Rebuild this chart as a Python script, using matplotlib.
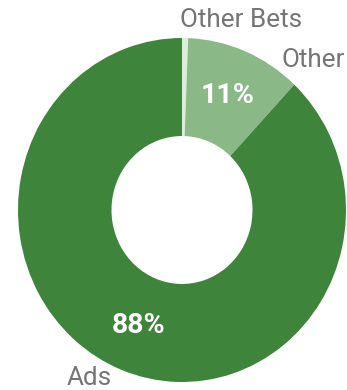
import matplotlib

matplotlib.use("Agg")
import matplotlib.pyplot as plt

# Revenue share by segment, clockwise from 12 o'clock
segments = ["Other Bets", "Other", "Ads"]
shares = [0.6, 11.4, 88]
colors = ["#DCEEDA", "#8AB987", "#3E843B"]

LABEL_COLOR = "#757575"

# pixel geometry of the ring on the canvas
W, H = 347, 390
CX, CY = 182, 210
RX, RY = 164, 172


def px(x, y):
    # canvas pixel -> data coords (ring radius == 1)
    return (x - CX) / RX, (CY - y) / RY


def pct_label(p):
    return f"{p:.0f}%" if p >= 5 else ""


fig = plt.figure(figsize=(W / 100, H / 100), dpi=100)
ax = fig.add_axes([0, 0, 1, 1])

wedges, _, autotexts = ax.pie(
    shares,
    colors=colors,
    startangle=90,
    counterclock=False,
    radius=1,
    autopct=pct_label,
    pctdistance=0.72,
    wedgeprops=dict(width=0.57, linewidth=0),
    textprops=dict(color="white", fontsize=20.5, fontweight="bold", family="Roboto"),
)

ax.set_aspect("auto")
ax.set_xlim(-CX / RX, (W - CX) / RX)
ax.set_ylim(-(H - CY) / RY, CY / RY)
ax.axis("off")

# segment names sit outside the ring
label_pos = {
    "Other Bets": (241, 20),
    "Other": (313, 60),
    "Ads": (89, 378),
}
for name in segments:
    x, y = px(*label_pos[name])
    ax.text(x, y, name, ha="center", va="center", fontsize=18.8,
            color=LABEL_COLOR, family="Roboto")

fig.savefig("out.png", dpi=100)
